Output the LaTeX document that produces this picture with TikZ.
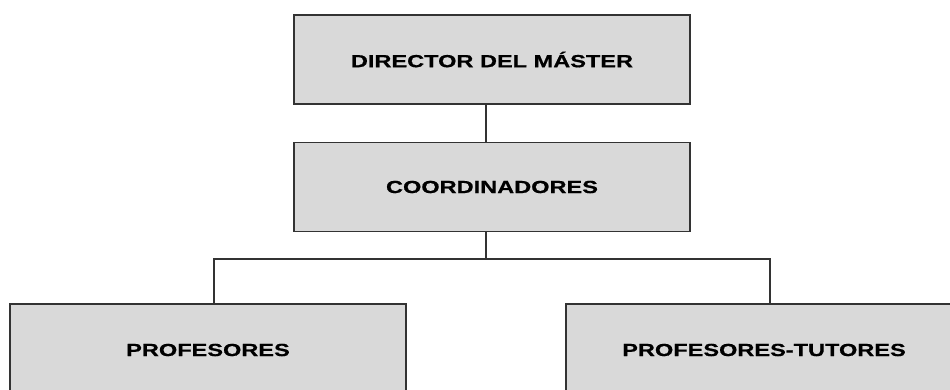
\documentclass[tikz,border=0pt]{standalone}
\usepackage{fontspec}
\setmainfont{Liberation Sans}
\newfontfamily\cargofont{Liberation Sans Bold}[FakeStretch=1.34, FakeBold=0.6]
\begin{document}
\begin{tikzpicture}[font=\cargofont]
    % Define styles
    \tikzset{
        cargo/.style={rectangle, minimum width=7.92cm, minimum height=1.78cm, draw=black!80, line width=0.8pt, fill=gray!30},
        enlace/.style={draw=black!80, line width=0.8pt},
    }

    % Fixed frame
    \useasboundingbox (0,0) rectangle (19,-7.78);
    \clip (0,0) rectangle (19,-7.78);

    % Upper levels
    \node[cargo] (director) at (9.84,-1.19) {DIRECTOR DEL MÁSTER};
    \node[cargo] (coord) at (9.84,-3.74) {COORDINADORES};

    % Lower level
    \node[cargo, minimum height=1.84cm] (prof) at (4.16,-7.0) {PROFESORES};
    \node[cargo, minimum height=1.84cm] (tutores) at (15.28,-7.0) {PROFESORES-TUTORES};

    \coordinate (rama) at (9.72,-5.18);

    \draw[enlace] ([xshift=-0.12cm]director.south) -- ([xshift=-0.12cm]coord.north);
    \draw[enlace] ([xshift=-0.12cm]coord.south) -- (rama);
    \draw[enlace] (rama) -| ([xshift=0.12cm]prof.north);
    \draw[enlace] (rama) -| ([xshift=0.12cm]tutores.north);
\end{tikzpicture}
\end{document}
